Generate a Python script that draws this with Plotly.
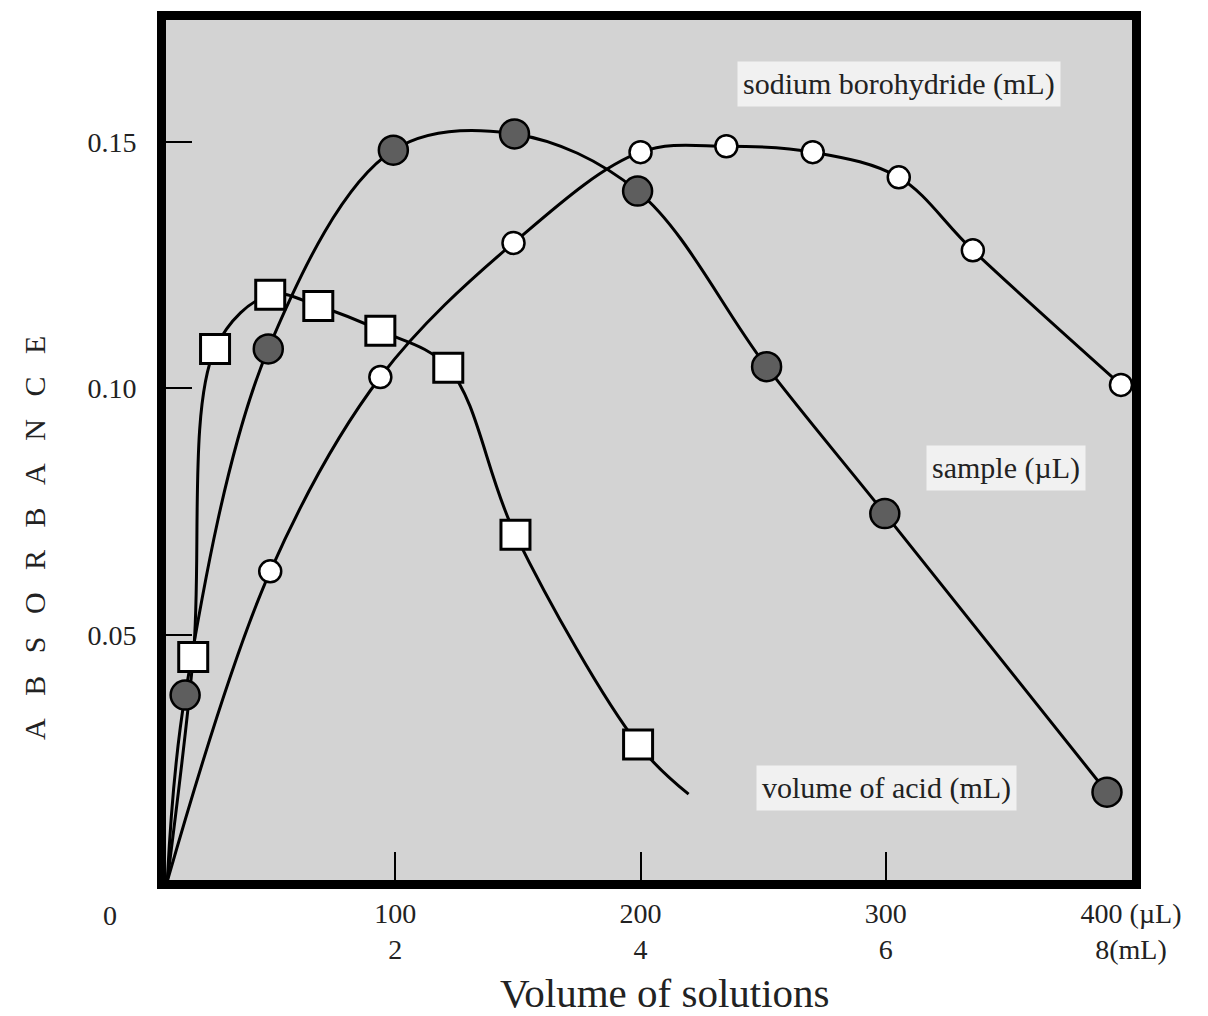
import plotly.graph_objects as go

# ---------------- data ----------------
# volume of acid (mL)  -> open squares
acid_x = [17.6, 26.5, 49.0, 68.6, 93.9, 121.6, 149.0, 199.0]
acid_y = [0.0455, 0.108, 0.119, 0.1167, 0.1117, 0.1042, 0.0703, 0.0278]
acid_curve_x = [7.0, 17.6, 26.5, 49.0, 68.6, 93.9, 121.6, 149.0, 199.0, 219.6]
acid_curve_y = [0.0, 0.0455, 0.108, 0.119, 0.1167, 0.1117, 0.1042, 0.0703, 0.0278, 0.0177]

# sample (uL) -> filled circles
sample_x = [14.3, 48.2, 99.2, 148.6, 198.8, 251.4, 299.6, 390.2]
sample_y = [0.0378, 0.108, 0.1483, 0.1516, 0.140, 0.1044, 0.0746, 0.0181]
sample_curve_x = [7.0, 14.3, 48.2, 99.2, 148.6, 198.8, 251.4, 299.6, 390.2]
sample_curve_y = [0.0, 0.0378, 0.108, 0.1483, 0.1516, 0.140, 0.1044, 0.0746, 0.0181]

# sodium borohydride (mL) -> open circles
boro_x = [49.0, 93.9, 148.2, 200.0, 235.0, 270.2, 305.3, 335.5, 395.9]
boro_y = [0.0629, 0.1023, 0.1295, 0.1479, 0.1491, 0.1479, 0.1428, 0.128, 0.1007]
boro_curve_x = [7.0, 49.0, 93.9, 148.2, 200.0, 235.0, 270.2, 305.3, 335.5, 395.9]
boro_curve_y = [0.0, 0.0629, 0.1023, 0.1295, 0.1479, 0.1491, 0.1479, 0.1428, 0.128, 0.1007]

x_tick_vals = [100, 200, 300, 400]
x_tick_text = ["100<br>2", "200<br>4", "300<br>6", "400 (µL)<br>8(mL)"]
y_tick_vals = [0.05, 0.10, 0.15]
y_tick_text = ["0.05", "0.10", "0.15"]

FONT = "Liberation Serif"
TXT = "#222222"
BG = "#d3d3d3"
LABEL_BG = "#f1f1f1"

fig = go.Figure()

line_style = dict(color="black", width=3, shape="spline", smoothing=1.0)
for cx, cy in [(acid_curve_x, acid_curve_y),
               (sample_curve_x, sample_curve_y),
               (boro_curve_x, boro_curve_y)]:
    fig.add_trace(go.Scatter(x=cx, y=cy, mode="lines", line=line_style,
                             hoverinfo="skip", showlegend=False))

fig.add_trace(go.Scatter(
    x=boro_x, y=boro_y, mode="markers", name="sodium borohydride (mL)",
    marker=dict(symbol="circle", size=22, color="white",
                line=dict(color="black", width=2.5)),
    showlegend=False))
fig.add_trace(go.Scatter(
    x=sample_x, y=sample_y, mode="markers", name="sample (µL)",
    marker=dict(symbol="circle", size=29, color="#5e5e5e",
                line=dict(color="black", width=2.5)),
    showlegend=False))
fig.add_trace(go.Scatter(
    x=acid_x, y=acid_y, mode="markers", name="volume of acid (mL)",
    marker=dict(symbol="square", size=29, color="white",
                line=dict(color="black", width=3)),
    showlegend=False))

axis_common = dict(showline=True, linecolor="black", linewidth=9, mirror=True,
                   showgrid=False, zeroline=False, ticks="inside",
                   tickcolor="black", tickwidth=2, automargin=False,
                   tickfont=dict(family=FONT, size=28, color=TXT))

fig.update_xaxes(range=[6.5, 400.4], tickmode="array", tickvals=x_tick_vals,
                 ticktext=x_tick_text, ticklen=28, ticklabelstandoff=0,
                 **axis_common)
fig.update_yaxes(range=[0.0003, 0.1747], tickmode="array", tickvals=y_tick_vals,
                 ticktext=y_tick_text, ticklen=26, ticklabelstandoff=15,
                 **axis_common)

label_font = dict(family=FONT, size=30, color=TXT)
box = dict(showarrow=False, font=label_font, bgcolor=LABEL_BG, borderpad=5,
           xanchor="center", yanchor="middle", xref="x", yref="y")
annotations = [
    dict(x=305.5, y=0.1617, text="sodium borohydride (mL)", **box),
    dict(x=349.0, y=0.0839, text="sample (µL)", **box),
    dict(x=300.2, y=0.0190, text="volume of acid (mL)", **box),
    dict(x=0, y=0, xref="paper", yref="paper", xshift=-56, yshift=-35,
         xanchor="center", yanchor="middle",
         text="0", showarrow=False, font=dict(family=FONT, size=28, color=TXT)),
    dict(x=0, y=0.3977, xref="paper", yref="paper", xshift=-131,
         xanchor="center", yanchor="middle",
         text="\u00a0\u00a0\u00a0".join("ABSORBANCE"), textangle=-90,
         showarrow=False, font=dict(family=FONT, size=30, color=TXT)),
    dict(x=0.5166, y=0, xref="paper", yref="paper", yshift=-113,
         xanchor="center", yanchor="middle",
         text="Volume of solutions", showarrow=False,
         font=dict(family=FONT, size=41, color=TXT)),
]

fig.update_layout(
    width=1208, height=1016,
    margin=dict(l=166, r=76, t=20, b=136),
    plot_bgcolor=BG, paper_bgcolor="white",
    annotations=annotations,
    showlegend=False,
)

fig.write_html(
    "out.html",
    config={"displayModeBar": False},
    post_script="document.body.style.margin='0';document.body.style.padding='0';",
)
